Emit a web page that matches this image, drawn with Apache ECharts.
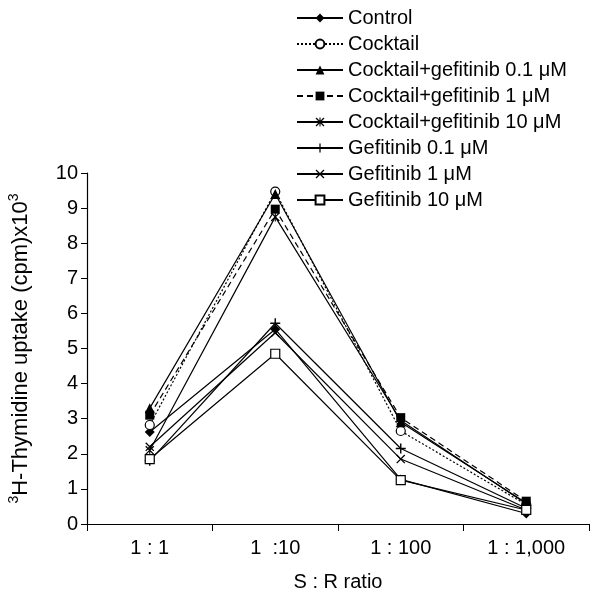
<!DOCTYPE html>
<html lang="en">
<head>
  <meta charset="UTF-8">
  <title>Thymidine uptake</title>
  <script src="https://cdn.jsdelivr.net/npm/echarts@6.0.0/dist/echarts.min.js"></script>
  <style>
    html, body { margin: 0; padding: 0; background: #fff; }
    #main { width: 592px; height: 594px; }
  </style>
</head>
<body>
  <div id="main"></div>
  <script>
    // S:R ratio categories
    const categories = ['1 : 1', '1  :10', '1 : 100', '1 : 1,000'];

    // uptake (cpm x10^3)
    const control   = [2.62, 5.55, 1.27, 0.30];
    const cocktail  = [2.82, 9.47, 2.65, 0.55];
    const cockGef01 = [3.30, 9.40, 2.90, 0.60];
    const cockGef1  = [3.10, 8.97, 3.03, 0.65];
    const cockGef10 = [2.10, 8.75, 2.95, 0.58];
    const gef01     = [1.80, 5.72, 2.15, 0.45];
    const gef1      = [2.20, 5.45, 1.85, 0.40];
    const gef10     = [1.85, 4.85, 1.25, 0.40];

    const yTicks = [0, 10, 1];

    const plusPath = 'path://M4.3,0h1.4v10h-1.4z M0,4.3h10v1.4h-10z';
    const crossPath = 'path://M0,1L1,0L10,9L9,10Z M9,0L10,1L1,10L0,9Z';
    const starPath = 'path://M0,1L1,0L10,9L9,10Z M9,0L10,1L1,10L0,9Z M4.4,0h1.2v10h-1.2z';

    const chart = echarts.init(document.getElementById('main'));

    function mk(name, data, symbol, size, fill, dash) {
      return {
        name: name,
        type: 'line',
        data: data,
        symbol: symbol,
        symbolSize: size,
        showAllSymbol: true,
        lineStyle: { color: '#000', width: 1.2, type: dash || 'solid' },
        itemStyle: { color: fill, borderColor: '#000', borderWidth: fill === '#fff' ? 1.2 : 0 },
        emphasis: { disabled: true },
        animation: false
      };
    }

    const series = [
      mk('Control', control, 'diamond', 10, '#000'),
      mk('Cocktail', cocktail, 'circle', 9, '#fff', [2, 2]),
      mk('Cocktail+gefitinib 0.1 \u03bcM', cockGef01, 'triangle', 10, '#000'),
      mk('Cocktail+gefitinib 1 \u03bcM', cockGef1, 'rect', 9, '#000', [6, 4]),
      mk('Cocktail+gefitinib 10 \u03bcM', cockGef10, starPath, 9, '#000'),
      mk('Gefitinib 0.1 \u03bcM', gef01, plusPath, 10, '#000'),
      mk('Gefitinib 1 \u03bcM', gef1, crossPath, 9, '#000'),
      mk('Gefitinib 10 \u03bcM', gef10, 'rect', 9, '#fff')
    ];

    const font = 'Liberation Sans, Arial, sans-serif';

    chart.setOption({
      animation: false,
      textStyle: { fontFamily: font, color: '#000' },
      legend: {
        orient: 'vertical',
        left: 296,
        top: 8,
        padding: 0,
        itemWidth: 46,
        itemHeight: 11,
        itemGap: 6,
        selectedMode: false,
        textStyle: { fontFamily: font, fontSize: 20, color: '#000' },
        data: series.map(s => s.name)
      },
      grid: { left: 87, right: 3, top: 173, bottom: 70, containLabel: false, outerBoundsMode: 'none' },
      xAxis: {
        type: 'category',
        data: categories,
        boundaryGap: true,
        name: 'S : R ratio',
        nameLocation: 'middle',
        nameGap: 48,
        nameTextStyle: { fontSize: 20, color: '#000', fontFamily: font },
        axisLine: { lineStyle: { color: '#000', width: 1.2 } },
        axisTick: { show: true, length: 7, inside: false, lineStyle: { color: '#000' } },
        axisLabel: { fontSize: 20, color: '#000', margin: 14, fontFamily: font }
      },
      yAxis: {
        type: 'value',
        min: yTicks[0],
        max: yTicks[1],
        interval: yTicks[2],
        name: '{sup|3}H-Thymidine uptake (cpm)x10{sup|3}',
        nameLocation: 'middle',
        nameGap: 53,
        nameTextStyle: {
          fontSize: 22, color: '#000', fontFamily: font,
          rich: {
            sup: { fontSize: 14, verticalAlign: 'top', padding: [0, 0, 13, 0], fontFamily: font, color: '#000' }
          }
        },
        splitLine: { show: false },
        axisLine: { show: true, lineStyle: { color: '#000', width: 1.2 } },
        axisTick: { show: true, length: 6, lineStyle: { color: '#000' } },
        axisLabel: { fontSize: 20, color: '#000', margin: 9, fontFamily: font }
      },
      series: series
    });
  </script>
</body>
</html>
